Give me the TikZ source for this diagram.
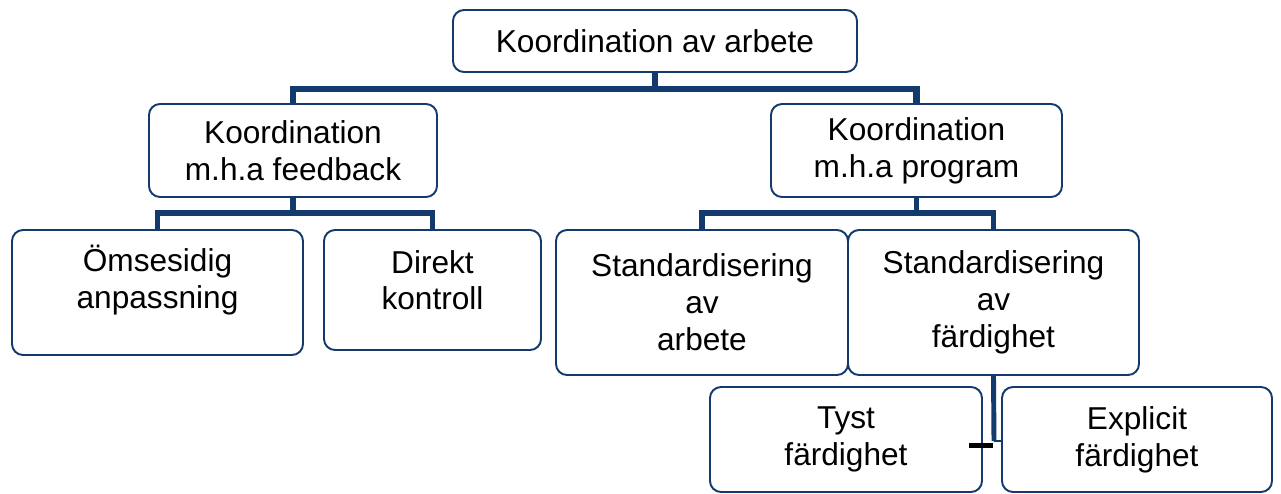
\documentclass[tikz,border=0pt]{standalone}
\usepackage{fontspec}
\setmainfont{Liberation Sans}
\usepackage{tikz}
\usetikzlibrary{positioning}
\definecolor{navy}{RGB}{18,58,108}
\tikzset{
    box/.style = {rectangle, rounded corners=0.22cm, draw=navy, line width=1.1pt, fill=white, align=center, inner sep=0pt, font=\fontsize{18}{21}\selectfont},
    edgel1/.style = {draw=navy, line width=3.8pt},
    edgel2/.style = {draw=navy, line width=3.0pt},
    edgel3/.style = {draw=navy, line width=2.8pt},
    edgestub/.style = {draw=navy, line width=1.4pt},
    edgetick/.style = {draw=black, line width=3pt}
}
\begin{document}
\begin{tikzpicture}
\useasboundingbox (0,0) rectangle (25.62,-9.86);

% connectors first, boxes on top
\coordinate (b1) at (13.10,-1.78);
\coordinate (b2) at (5.86,-4.26);
\coordinate (b3) at (18.33,-4.26);
\coordinate (c4) at (19.88,-8.82);
\coordinate (tk1) at (19.38,-8.91);
\coordinate (tk2) at (19.86,-8.91);

\node[box,minimum width=8.08cm,minimum height=1.24cm] at (13.10,-0.82) (top) {Koordination av arbete};
\node[box,minimum width=5.76cm,minimum height=1.86cm] at (5.86,-3.01) (fb) {Koordination\\m.h.a feedback};
\node[box,minimum width=5.82cm,minimum height=1.86cm] at (18.33,-3.01) (prog) {Koordination\\m.h.a program};

\draw[edgel1] (top.south) -- (b1);
\draw[edgel1] (fb.north) |- (b1) -| (prog.north);

\node[box,minimum width=5.82cm,minimum height=2.50cm,text depth=17.5pt] at (3.15,-5.85) (oms) {Ömsesidig\\anpassning};
\node[box,minimum width=4.34cm,minimum height=2.40cm,text depth=11.4pt] at (8.65,-5.80) (dir) {Direkt\\kontroll};
\node[box,minimum width=5.84cm,minimum height=2.90cm] at (14.04,-6.05) (sarb) {Standardisering\\av\\arbete};
\node[box,minimum width=5.82cm,minimum height=2.90cm] at (19.87,-6.05) (sfar) {Standardisering\\av\\färdighet};

\draw[edgel2] (fb.south) -- (b2);
\draw[edgel2] (oms.north) |- (b2) -| (dir.north);
\draw[edgel2] (prog.south) -- (b3);
\draw[edgel2] (sarb.north) |- (b3) -| (sfar.north);

\node[box,minimum width=5.44cm,minimum height=2.10cm] at (16.92,-8.79) (tyst) {Tyst\\färdighet};
\node[box,minimum width=5.40cm,minimum height=2.10cm] at (22.74,-8.79) (expl) {Explicit\\färdighet};

\draw[edgel3] (sfar.south) -- (c4);
\draw[edgestub] (c4) -- (expl.west |- c4);
\draw[edgetick] (tk1) -- (tk2);
\end{tikzpicture}
\end{document}
